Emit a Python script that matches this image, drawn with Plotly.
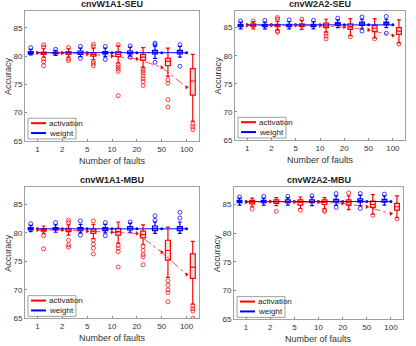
import plotly.graph_objects as go
from plotly.subplots import make_subplots

# categories on x
faults = ["1", "2", "5", "10", "20", "50", "100"]
pos = [1, 2, 3, 4, 5, 6, 7]

titles = ["cnvW1A1-SEU", "cnvW2A2-SEU", "cnvW1A1-MBU", "cnvW2A2-MBU"]
series_names = ["activation", "weight"]

# ---- cnvW1A1-SEU ----
seu1_w_q1 = [80.4, 80.4, 80.3, 80.4, 80.4, 80.4, 80.4]
seu1_w_med = [80.6, 80.6, 80.6, 80.6, 80.6, 80.7, 80.7]
seu1_w_q3 = [80.8, 80.7, 80.9, 80.8, 80.9, 81.0, 81.0]
seu1_w_lo = [80.2, 80.1, 79.9, 79.9, 80.0, 79.6, 79.8]
seu1_w_hi = [81.2, 81.0, 81.4, 81.4, 81.6, 81.8, 81.7]
seu1_w_out = [[81.5], [81.2], [81.7, 79.6], [81.7, 79.4], [81.8, 79.8], [82.3, 82.0, 78.9], [82.0, 78.2]]
seu1_a_q1 = [80.3, 80.3, 80.0, 79.9, 79.3, 78.3, 73.1]
seu1_a_med = [80.5, 80.6, 80.3, 80.3, 79.8, 79.1, 75.6]
seu1_a_q3 = [80.7, 80.8, 80.6, 80.8, 80.3, 79.6, 77.8]
seu1_a_lo = [79.8, 79.8, 79.4, 78.8, 78.0, 76.4, 68.5]
seu1_a_hi = [81.3, 81.3, 81.4, 81.8, 81.5, 81.4, 80.3]
seu1_a_out = [[82.0, 81.6, 79.5, 79.0, 78.3], [81.5, 79.5, 79.2], [82.1, 81.7, 79.0, 78.7, 78.3],
              [82.0, 78.5, 78.1, 77.7, 77.3, 73.0], [77.8, 77.4, 77.0, 76.5, 76.0, 75.5, 74.8],
              [75.8, 75.2, 72.3, 71.0], [68.0, 67.5, 67.0]]
seu1_w_mean = [80.6, 80.6, 80.6, 80.6, 80.6, 80.6, 80.6]
seu1_a_mean = [80.6, 80.55, 80.35, 80.0, 79.5, 78.0, 74.5]

# ---- cnvW2A2-SEU ----
seu2_w_q1 = [85.2, 85.2, 85.2, 85.2, 85.4, 85.4, 85.5]
seu2_w_med = [85.4, 85.4, 85.4, 85.4, 85.7, 85.7, 85.8]
seu2_w_q3 = [85.6, 85.6, 85.6, 85.6, 85.9, 86.0, 86.0]
seu2_w_lo = [84.8, 84.8, 84.8, 84.8, 85.0, 84.9, 85.0]
seu2_w_hi = [86.0, 86.0, 86.1, 86.1, 86.4, 86.5, 86.5]
seu2_w_out = [[86.2], [86.3], [86.4], [86.3], [86.7], [86.9, 84.4], [87.0, 84.0]]
seu2_a_q1 = [85.2, 85.2, 85.2, 85.0, 84.7, 84.3, 83.8]
seu2_a_med = [85.4, 85.4, 85.4, 85.3, 85.2, 84.9, 84.4]
seu2_a_q3 = [85.7, 85.6, 85.7, 85.8, 85.7, 85.4, 85.0]
seu2_a_lo = [84.8, 84.6, 84.7, 84.2, 83.6, 83.2, 82.3]
seu2_a_hi = [86.1, 86.1, 86.3, 86.5, 86.6, 86.6, 86.4]
seu2_a_out = [[86.2], [86.8, 86.5, 84.4, 84.2], [86.5], [84.0, 83.5, 83.0], [83.4], [83.0], [82.1]]
seu2_w_mean = [85.5, 85.5, 85.5, 85.5, 85.5, 85.5, 85.5]
seu2_a_mean = [85.4, 85.4, 85.4, 85.35, 85.1, 84.6, 83.6]

# ---- cnvW1A1-MBU ----
mbu1_w_q1 = [80.5, 80.5, 80.4, 80.4, 80.5, 80.4, 80.4]
mbu1_w_med = [80.7, 80.7, 80.7, 80.7, 80.8, 80.8, 80.8]
mbu1_w_q3 = [80.9, 80.9, 80.9, 80.9, 81.1, 81.2, 81.1]
mbu1_w_lo = [80.2, 80.1, 80.0, 80.0, 80.1, 79.9, 79.9]
mbu1_w_hi = [81.3, 81.4, 81.5, 81.5, 81.7, 81.9, 81.9]
mbu1_w_out = [[81.6], [81.8], [82.1, 79.6], [81.8, 79.5], [81.9], [82.2, 83.0], [82.6, 83.6]]
mbu1_a_q1 = [80.3, 80.2, 79.9, 79.6, 79.1, 75.2, 72.0]
mbu1_a_med = [80.5, 80.5, 80.3, 80.2, 79.7, 76.9, 74.0]
mbu1_a_q3 = [80.7, 80.8, 80.7, 80.8, 80.3, 78.7, 76.3]
mbu1_a_lo = [79.9, 79.6, 79.0, 78.2, 78.0, 72.2, 67.5]
mbu1_a_hi = [81.2, 81.4, 81.5, 81.9, 81.4, 81.0, 78.5]
mbu1_a_out = [[79.5, 77.2], [82.2, 81.8, 78.7, 77.9, 77.5], [82.1, 78.7, 78.0, 77.3, 76.3],
              [77.8, 77.3, 76.7, 74.0], [77.6, 76.9, 76.2, 75.8, 74.4], [71.6, 70.8, 70.0, 69.5, 67.9],
              [67.2, 66.7, 66.3, 65.0]]
mbu1_w_mean = [80.7, 80.7, 80.7, 80.7, 80.7, 80.7, 80.7]
mbu1_a_mean = [80.5, 80.5, 80.3, 80.1, 79.9, 76.6, 72.7]

# ---- cnvW2A2-MBU ----
mbu2_w_q1 = [85.3, 85.3, 85.3, 85.3, 85.4, 85.4, 85.4]
mbu2_w_med = [85.5, 85.5, 85.5, 85.5, 85.6, 85.7, 85.6]
mbu2_w_q3 = [85.7, 85.7, 85.8, 85.8, 85.9, 86.0, 85.9]
mbu2_w_lo = [84.9, 84.9, 84.9, 84.8, 84.9, 84.8, 84.9]
mbu2_w_hi = [86.1, 86.1, 86.2, 86.3, 86.5, 86.6, 86.5]
mbu2_w_out = [[86.3], [86.4], [86.4], [86.5], [86.9, 84.5], [86.9, 84.3], [86.8]]
mbu2_a_q1 = [85.1, 85.2, 84.9, 85.0, 84.9, 84.5, 84.0]
mbu2_a_med = [85.4, 85.5, 85.4, 85.4, 85.4, 85.0, 84.6]
mbu2_a_q3 = [85.7, 85.8, 85.8, 85.8, 85.8, 85.6, 85.2]
mbu2_a_lo = [84.6, 84.8, 84.3, 84.3, 84.1, 83.3, 82.7]
mbu2_a_hi = [86.1, 86.2, 86.3, 86.2, 86.5, 86.7, 86.5]
mbu2_a_out = [[84.2], [83.8], [84.0], [84.0, 83.8], [87.0], [83.1], [82.5]]
mbu2_w_mean = [85.5, 85.5, 85.5, 85.5, 85.5, 85.5, 85.5]
mbu2_a_mean = [85.4, 85.5, 85.4, 85.4, 85.2, 84.6, 83.4]

panels = [
    (seu1_w_q1, seu1_w_med, seu1_w_q3, seu1_w_lo, seu1_w_hi, seu1_w_out, seu1_w_mean,
     seu1_a_q1, seu1_a_med, seu1_a_q3, seu1_a_lo, seu1_a_hi, seu1_a_out, seu1_a_mean),
    (seu2_w_q1, seu2_w_med, seu2_w_q3, seu2_w_lo, seu2_w_hi, seu2_w_out, seu2_w_mean,
     seu2_a_q1, seu2_a_med, seu2_a_q3, seu2_a_lo, seu2_a_hi, seu2_a_out, seu2_a_mean),
    (mbu1_w_q1, mbu1_w_med, mbu1_w_q3, mbu1_w_lo, mbu1_w_hi, mbu1_w_out, mbu1_w_mean,
     mbu1_a_q1, mbu1_a_med, mbu1_a_q3, mbu1_a_lo, mbu1_a_hi, mbu1_a_out, mbu1_a_mean),
    (mbu2_w_q1, mbu2_w_med, mbu2_w_q3, mbu2_w_lo, mbu2_w_hi, mbu2_w_out, mbu2_w_mean,
     mbu2_a_q1, mbu2_a_med, mbu2_a_q3, mbu2_a_lo, mbu2_a_hi, mbu2_a_out, mbu2_a_mean),
]

RED = "#ff0000"
BLUE = "#0000ff"
W, H = 416, 346

fig = make_subplots(rows=2, cols=2)

# axes boxes in window pixels (left, right), (top, bottom)
xdoms = [(25, 199), (235, 405), (25, 199), (234, 403)]
ydoms = [(11, 143), (11, 142), (190, 323), (190, 324)]
cells = [(1, 1), (1, 2), (2, 1), (2, 2)]
shapes = []
annos = []


def px(x, y):
    return x / W, 1 - y / H


for k, (p, (r, c)) in enumerate(zip(panels, cells)):
    (wq1, wmed, wq3, wlo, whi, wout, wmean, aq1, amed, aq3, alo, ahi, aout, amean) = p
    wx = [i - 0.27 for i in pos]
    ax = [i + 0.25 for i in pos]

    # separators between fault groups
    for xv in [1.5, 2.5, 3.5, 4.5, 5.5, 6.5]:
        fig.add_vline(x=xv, line=dict(color="#a8a8a8", width=0.8, dash="3px,2px"), row=r, col=c)

    fig.add_trace(go.Scatter(x=pos, y=wmean, mode="lines+markers", line=dict(color=BLUE, width=1),
                             marker=dict(size=3, color=BLUE), showlegend=False, hoverinfo="skip"), r, c)
    fig.add_trace(go.Scatter(x=pos, y=amean, mode="lines+markers",
                             line=dict(color="rgba(255,0,0,0.7)", width=1, dash="dashdot"),
                             marker=dict(size=4, color=RED, symbol="triangle-right"),
                             showlegend=False, hoverinfo="skip"), r, c)

    fig.add_trace(go.Box(x=wx, q1=wq1, median=wmed, q3=wq3, lowerfence=wlo, upperfence=whi,
                         width=0.2, whiskerwidth=0.8, line=dict(color=BLUE, width=1.2),
                         fillcolor="rgba(0,0,255,0.12)", showlegend=False), r, c)
    fig.add_trace(go.Box(x=ax, q1=aq1, median=amed, q3=aq3, lowerfence=alo, upperfence=ahi,
                         width=0.2, whiskerwidth=0.8, line=dict(color=RED, width=1.2),
                         fillcolor="rgba(255,0,0,0.12)", showlegend=False), r, c)

    ox = [wx[i] for i in range(7) for v in wout[i]]
    oy = [v for i in range(7) for v in wout[i]]
    fig.add_trace(go.Scatter(x=ox, y=oy, mode="markers", showlegend=False,
                             marker=dict(symbol="circle-open", size=4, color="rgba(0,0,255,0.75)",
                                         line=dict(width=1))), r, c)
    ox = [ax[i] for i in range(7) for v in aout[i]]
    oy = [v for i in range(7) for v in aout[i]]
    fig.add_trace(go.Scatter(x=ox, y=oy, mode="markers", showlegend=False,
                             marker=dict(symbol="circle-open", size=4, color="rgba(255,0,0,0.75)",
                                         line=dict(width=1))), r, c)

    x0, x1 = xdoms[k]
    y0, y1 = ydoms[k]
    dx0, dy1 = px(x0, y1)
    dx1, dy0 = px(x1, y0)
    xa = "xaxis" if k == 0 else "xaxis%d" % (k + 1)
    ya = "yaxis" if k == 0 else "yaxis%d" % (k + 1)
    axis_style = dict(showgrid=False, zeroline=False, showline=True, mirror=True,
                      linecolor="#a0a0a0", linewidth=1, ticks="inside", ticklen=2, tickcolor="#888",
                      tickfont=dict(size=8, color="#333"))
    fig.layout[xa].update(domain=[dx0, dx1], range=[0.5, 7.5], tickvals=pos, ticktext=faults,
                          **axis_style)
    fig.layout[ya].update(domain=[dy1, dy0], range=[65, 88], tickvals=[65, 70, 75, 80, 85],
                          **axis_style)

    # title and axis labels
    tx, ty = px((x0 + x1) / 2, y0)
    annos.append(dict(text="<b>%s</b>" % titles[k], x=tx, y=ty, xanchor="center", yanchor="bottom",
                      font=dict(size=9, color="#222")))
    lx, ly = px((x0 + x1) / 2, y1 + 20)
    annos.append(dict(text="Number of faults", x=lx, y=ly, xanchor="center", yanchor="middle",
                      font=dict(size=9, color="#333")))
    ax_, ay_ = px(x0 - 17, (y0 + y1) / 2)
    annos.append(dict(text="Accuracy", x=ax_, y=ay_, xanchor="center", yanchor="middle", textangle=-90,
                      font=dict(size=9, color="#333")))

    # legend box (drawn by hand, MATLAB style)
    bx0, by0 = px(x0 + 3, y1 - 23)
    bx1, by1 = px(x0 + 51, y1 - 2)
    shapes.append(dict(type="rect", xref="paper", yref="paper", x0=bx0, x1=bx1, y0=by1, y1=by0,
                       fillcolor="white", line=dict(color="#888", width=0.8)))
    for j, (name, col) in enumerate(zip(series_names, [RED, BLUE])):
        yy = y1 - 18 + j * 10
        lx0, lyy = px(x0 + 6, yy)
        lx1, _ = px(x0 + 21, yy)
        shapes.append(dict(type="line", xref="paper", yref="paper", x0=lx0, x1=lx1, y0=lyy, y1=lyy,
                           line=dict(color=col, width=2)))
        tx_, _ = px(x0 + 22, yy)
        annos.append(dict(text=name, x=tx_, y=lyy, xanchor="left", yanchor="middle",
                          font=dict(size=8, color="#222")))

for a in annos:
    a.update(xref="paper", yref="paper", showarrow=False)

fig.update_layout(width=W, height=H, margin=dict(l=0, r=0, t=0, b=0), boxmode="overlay",
                  plot_bgcolor="white", paper_bgcolor="white", showlegend=False,
                  font=dict(family="Liberation Sans, Arial, sans-serif"))
fig.layout.shapes = list(fig.layout.shapes) + shapes
fig.update_layout(annotations=annos)

# the page body has a default 8px margin; drop it so the figure sits at the window corner
fig.write_html("out.html", config={"displayModeBar": False},
               post_script="document.body.style.margin='0';")
